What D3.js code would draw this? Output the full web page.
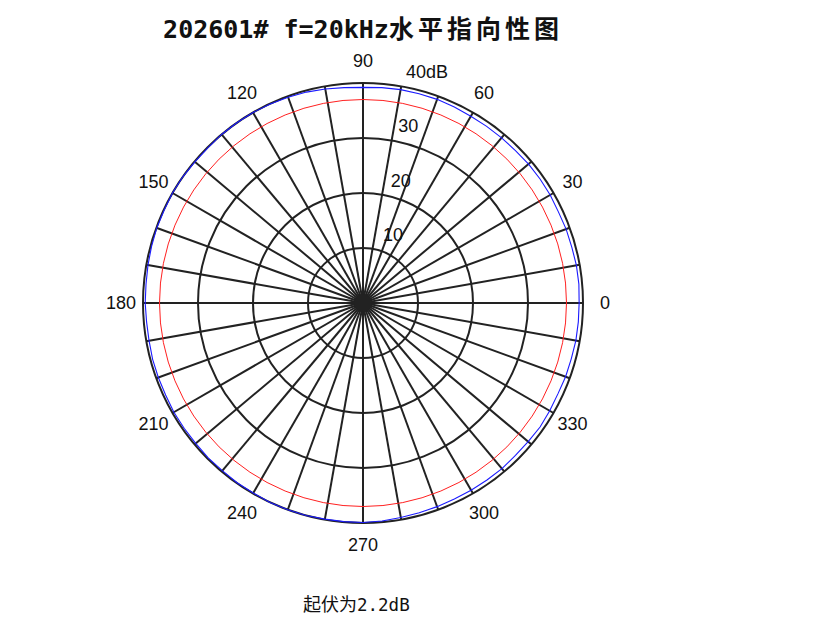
<!DOCTYPE html>
<html>
<head>
<meta charset="utf-8">
<script src="https://cdn.jsdelivr.net/npm/d3@7"></script>
<style>
  html, body { margin: 0; padding: 0; background: #fff; }
  svg { display: block; }
</style>
</head>
<body>
<div id="chart"></div>
<script>
// Measured level (dB) every 5 degrees, 0..355
const angles = [0, 5, 10, 15, 20, 25, 30, 35, 40, 45, 50, 55, 60, 65, 70, 75, 80, 85,
  90, 95, 100, 105, 110, 115, 120, 125, 130, 135, 140, 145, 150, 155, 160, 165, 170, 175,
  180, 185, 190, 195, 200, 205, 210, 215, 220, 225, 230, 235, 240, 245, 250, 255, 260, 265,
  270, 275, 280, 285, 290, 295, 300, 305, 310, 315, 320, 325, 330, 335, 340, 345, 350, 355];
const levels = [39.3, 39.4, 39.4, 39.3, 39.3, 39.2, 39.3, 39.3, 39.3, 39.2, 39.2, 39.2, 39.2, 39.3, 39.4, 39.4, 39.4, 39.3,
  39.2, 39.3, 39.5, 39.7, 39.8, 39.9, 40.0, 40.0, 40.0, 39.9, 39.9, 40.0, 40.0, 39.9, 39.9, 39.8, 39.7, 39.6,
  39.6, 39.5, 39.5, 39.6, 39.6, 39.6, 39.7, 39.7, 39.7, 39.8, 39.8, 39.9, 39.9, 40.0, 40.0, 40.0, 39.9, 39.9,
  39.9, 39.8, 39.6, 39.5, 39.4, 39.3, 39.3, 39.3, 39.3, 39.2, 39.2, 39.3, 39.2, 39.1, 39.2, 39.2, 39.3, 39.3];

// reference level (red circle)
const refLevel = 37;

// grid
const ringTicks = [10, 20, 30, 40];
const ringLabels = ["10", "20", "30", "40dB"];
const spokeAngles = d3.range(0, 360, 10);
const angleTicks = [0, 30, 60, 90, 120, 150, 180, 210, 240, 270, 300, 330];

const titleLatin = "202601# f=20kHz";
const titleCjk = "水平指向性图";
const noteCjk = "起伏为";
const noteValue = "2.2dB";

function init() {
    const width = 821, height = 627;
    const cx = 363, cy = 303;

    const svg = d3.select("#chart").append("svg")
        .attr("width", width)
        .attr("height", height);

    const r = d3.scaleLinear().domain([0, 40]).range([0, 220]);
    const rad = d => d * Math.PI / 180;

    const g = svg.append("g").attr("transform", `translate(${cx},${cy})`);
    const gridColor = "#222";

    // rings
    g.selectAll("circle.ring")
        .data(ringTicks)
        .enter().append("circle")
        .attr("class", "ring")
        .attr("r", d => r(d))
        .attr("fill", "none")
        .attr("stroke", gridColor)
        .attr("stroke-width", 2);

    // spokes
    g.selectAll("line.spoke")
        .data(spokeAngles)
        .enter().append("line")
        .attr("class", "spoke")
        .attr("x1", 0).attr("y1", 0)
        .attr("x2", d => r(40) * Math.cos(rad(d)))
        .attr("y2", d => -r(40) * Math.sin(rad(d)))
        .attr("stroke", gridColor)
        .attr("stroke-width", 2);

    // spokes merge into a solid hub at the centre
    g.append("circle")
        .attr("r", 9)
        .attr("fill", gridColor);

    // reference circle
    g.append("circle")
        .attr("r", r(refLevel))
        .attr("fill", "none")
        .attr("stroke", "#ff2020")
        .attr("stroke-width", 1);

    // measured curve
    const pts = angles.map((a, i) => [rad(90 - a), r(levels[i])]);
    const line = d3.lineRadial().curve(d3.curveLinearClosed);
    g.append("path")
        .attr("d", line(pts))
        .attr("fill", "none")
        .attr("stroke", "#1a1aff")
        .attr("stroke-width", 1.1);

    // ring labels
    g.selectAll("text.rlab")
        .data(ringTicks)
        .enter().append("text")
        .attr("class", "rlab")
        .attr("x", d => 0.139 * r(d + 0.5) + 12)
        .attr("y", d => -0.99 * r(d + 0.5) - 4.5)
        .attr("font-family", "Liberation Sans, Arial, sans-serif")
        .attr("font-size", 18)
        .attr("fill", "#111")
        .text((d, i) => ringLabels[i]);

    // angle labels
    g.selectAll("text.alab")
        .data(angleTicks)
        .enter().append("text")
        .attr("class", "alab")
        .attr("x", d => r(44) * Math.cos(rad(d)))
        .attr("y", d => -r(44) * Math.sin(rad(d)))
        .attr("text-anchor", "middle")
        .attr("dominant-baseline", "central")
        .attr("font-family", "Liberation Sans, Arial, sans-serif")
        .attr("font-size", 18)
        .attr("fill", "#111")
        .text(d => d);

    // title
    const title = svg.append("text")
        .attr("x", cx)
        .attr("y", 38)
        .attr("text-anchor", "middle")
        .attr("font-weight", "bold")
        .attr("fill", "#111");
    title.append("tspan")
        .attr("font-family", "DejaVu Sans Mono, monospace")
        .attr("font-size", 25)
        .text(titleLatin);
    title.append("tspan")
        .attr("font-family", "Noto Sans CJK SC, sans-serif")
        .attr("font-size", 25)
        .attr("letter-spacing", 4)
        .text(titleCjk);

    // footnote
    const note = svg.append("text")
        .attr("x", 303)
        .attr("y", 611)
        .attr("fill", "#111");
    note.append("tspan")
        .attr("font-family", "Noto Sans CJK SC, sans-serif")
        .attr("font-size", 18)
        .text(noteCjk);
    note.append("tspan")
        .attr("font-family", "DejaVu Sans Mono, monospace")
        .attr("font-size", 17.5)
        .text(noteValue);
}
window.onload = init;
</script>
</body>
</html>
